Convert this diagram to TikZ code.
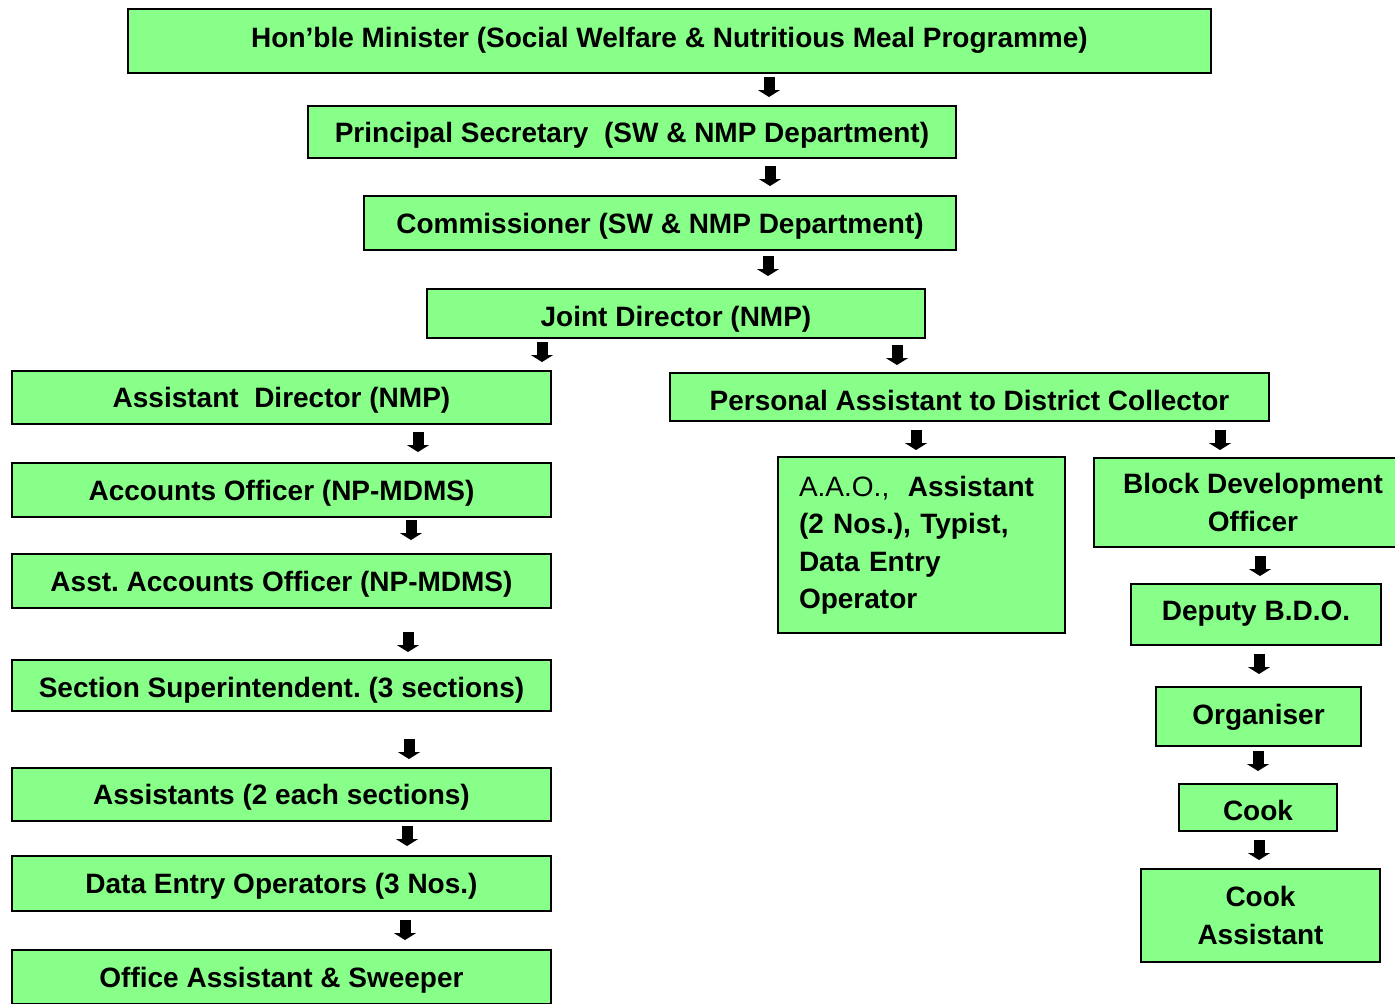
\documentclass[tikz,border=0pt]{standalone}
\usepackage{fontspec}
\setmainfont{Liberation Sans}
\usetikzlibrary{arrows.meta}
\definecolor{boxgreen}{RGB}{136,255,136}

\begin{document}
\begin{tikzpicture}[x=0.5pt, y=-0.5pt, line width=1pt,
    post/.style = {draw, fill=boxgreen, rectangle, inner sep=0pt, font=\fontsize{14}{19}\selectfont\bfseries},
    one/.style = {post, text height=10pt, text depth=0pt},
    blk/.style = {line width=5.5pt, -{Triangle[width=11pt, length=3.5pt]}}]
	\useasboundingbox (0,0) rectangle (1395,1003);

	\node[one, minimum width=541.5pt, minimum height=32pt, text depth=4pt] (1) at (669.5,41) {Hon’ble Minister (Social Welfare \& Nutritious Meal Programme)};
	\node[one, minimum width=324pt, minimum height=26pt] (2) at (632,132) {Principal Secretary\ \ (SW \& NMP Department)};
	\node[one, minimum width=296pt, minimum height=27pt] (3) at (660,223) {Commissioner (SW \& NMP Department)};
	\node[one, minimum width=249pt, minimum height=24.5pt, text height=12.5pt] (4) at (676,313.5) {Joint Director (NMP)};

	\node[one, minimum width=269.5pt, minimum height=26.5pt] (5) at (281.5,397.5) {Assistant\ \ Director (NMP)};
	\node[one, minimum width=269.5pt, minimum height=27pt] (7) at (281.5,490) {Accounts Officer (NP-MDMS)};
	\node[one, minimum width=269.5pt, minimum height=27pt] (8) at (281.5,581) {Asst.\ Accounts Officer (NP-MDMS)};
	\node[one, minimum width=269.5pt, minimum height=25.5pt, text height=11.5pt] (9) at (281.5,685.5) {Section Superintendent.\ (3 sections)};
	\node[one, minimum width=269.5pt, minimum height=26.5pt] (10) at (281.5,794.5) {Assistants (2 each sections)};
	\node[one, minimum width=269.5pt, minimum height=27.5pt] (11) at (281.5,883.5) {Data Entry Operators (3 Nos.)};
	\node[one, minimum width=269.5pt, minimum height=27pt] (12) at (281.5,977) {Office Assistant \& Sweeper};

	\node[one, minimum width=299.5pt, minimum height=24pt, text height=13pt] (6) at (969.5,397) {Personal Assistant to District Collector};
	\node[post, minimum width=143.5pt, minimum height=88pt, text width=122.5pt, align=left, font=\fontsize{14}{18.75}\selectfont\bfseries] (13) at (921.5,545) {{\mdseries A.A.O.,}\ \ Assistant\\(2 Nos.), Typist,\\Data Entry\\Operator};
	\node[post, minimum width=159pt, minimum height=44.5pt, align=center] (14) at (1253,502.5) {Block Development\\Officer};
	\node[one, minimum width=125pt, minimum height=30.5pt, text depth=4.5pt] (15) at (1256,614.5) {Deputy B.D.O.};
	\node[one, minimum width=102.5pt, minimum height=29.5pt, text depth=2.5pt] (16) at (1258.5,716.5) {Organiser};
	\node[one, minimum width=79pt, minimum height=23.5pt, text height=12.5pt] (17) at (1258,807.5) {Cook};
	\node[post, minimum width=119.5pt, minimum height=46.5pt, align=center] (18) at (1260.5,915.5) {Cook\\Assistant};

	% block arrows between the levels
	\foreach \n/\x/\y in {a/769/77, b/770/166, c/768/256, d/542/342, e/897/345,
		f/418/432, g/411/520, h/408/632, i/409/739, j/407/826, k/405/920,
		l/916/430, m/1220/430, n/1260/556, o/1259/654, p/1258/751, q/1259/840} {
		\coordinate (t\n) at (\x,\y);
		\coordinate (h\n) at (\x,\y+20);
		\draw[blk] (t\n) -- (h\n);
	}
\end{tikzpicture}
\end{document}
